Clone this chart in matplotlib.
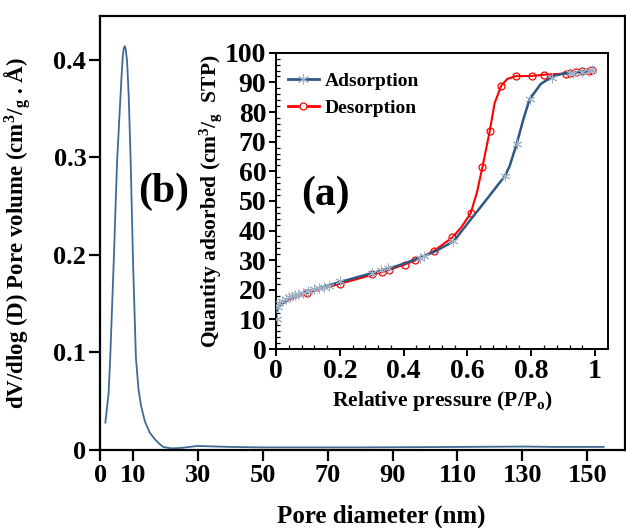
import numpy as np
import matplotlib
matplotlib.use("Agg")
import matplotlib.pyplot as plt

plt.rcParams['font.family'] = ['Liberation Serif', 'DejaVu Serif']
plt.rcParams['font.weight'] = 'bold'
plt.rcParams['mathtext.fontset'] = 'custom'
plt.rcParams['mathtext.rm'] = 'Liberation Serif:bold'
plt.rcParams['mathtext.bf'] = 'Liberation Serif:bold'
plt.rcParams['mathtext.default'] = 'rm'

# (b) pore size distribution
pore_d = [1.6, 2.6, 3.1, 3.6, 4.2, 5.2, 6.25, 6.7, 7.0, 7.3, 7.6, 7.9, 8.3, 8.8, 9.4, 10.1,
          11.0, 11.8, 12.6, 13.8, 15.2, 16.8, 18.3, 19.4, 22, 25, 30, 35, 40, 50, 60, 80,
          100, 120, 130, 140, 155]
pore_v = [0.028, 0.058, 0.095, 0.14, 0.195, 0.295, 0.362, 0.39, 0.405, 0.412, 0.414,
          0.41, 0.398, 0.362, 0.295, 0.195, 0.095, 0.062, 0.045, 0.029, 0.018, 0.011,
          0.006, 0.003, 0.0015, 0.002, 0.004, 0.0035, 0.003, 0.0025, 0.0025, 0.0025,
          0.0028, 0.0032, 0.0034, 0.003, 0.003]
b_xticks = [0, 10, 30, 50, 70, 90, 110, 130, 150]
b_yticks = [0, 0.1, 0.2, 0.3, 0.4]
b_ylabels = ['0', '0.1', '0.2', '0.3', '0.4']

# (a) isotherm: line traces
ads_line_x = [0.0, 0.005, 0.02, 0.05, 0.1, 0.15, 0.2, 0.3, 0.35, 0.4, 0.45, 0.5, 0.557,
              0.61, 0.66, 0.717, 0.732, 0.754, 0.775, 0.795, 0.83, 0.866, 0.9, 0.95, 0.99]
ads_line_y = [12.5, 14.0, 15.8, 17.5, 19.5, 21.0, 22.6, 25.6, 27.0, 28.8, 30.8, 33.0, 36.4,
              43.7, 50.5, 58.4, 61.7, 69.2, 77.5, 84.4, 89.5, 92.0, 93.0, 93.5, 94.0]
des_line_x = [0.0, 0.01, 0.03, 0.06, 0.1, 0.15, 0.2, 0.3, 0.35, 0.4, 0.45, 0.496, 0.553,
              0.58, 0.61, 0.63, 0.647, 0.67, 0.685, 0.706, 0.725, 0.751, 0.803, 0.84,
              0.908, 0.96, 0.99]
des_line_y = [13.3, 14.5, 16.0, 17.6, 19.0, 20.6, 22.0, 25.0, 26.6, 28.4, 30.5, 33.2, 37.7,
              41.0, 45.8, 53.0, 61.5, 73.7, 83.0, 88.9, 91.2, 92.1, 92.2, 92.6, 93.0, 93.7, 94.2]

# (a) isotherm: marker points
ads_pts_x = [0.002, 0.005, 0.01, 0.02, 0.03, 0.04, 0.05, 0.06, 0.07, 0.085, 0.1, 0.12, 0.135,
             0.15, 0.165, 0.2, 0.3, 0.33, 0.35, 0.45, 0.465, 0.555, 0.717, 0.754, 0.795,
             0.866, 0.92, 0.93, 0.96, 0.98, 0.99]
ads_pts_y = [10.0, 14.3, 15.5, 16.3, 17.0, 17.4, 17.8, 18.2, 18.6, 19.0, 19.5, 20.2, 20.6,
             21.0, 21.4, 22.8, 25.8, 26.6, 27.2, 30.8, 31.4, 36.4, 58.4, 69.2, 84.4,
             91.5, 93.2, 93.3, 93.6, 93.9, 94.3]
des_pts_x = [0.097, 0.2, 0.302, 0.332, 0.355, 0.405, 0.435, 0.496, 0.553, 0.61, 0.647, 0.67,
             0.706, 0.751, 0.803, 0.84, 0.908, 0.92, 0.94, 0.96, 0.98, 0.99]
des_pts_y = [18.9, 22.1, 25.2, 26.0, 26.8, 28.5, 30.0, 33.2, 37.7, 45.8, 61.5, 73.7,
             88.9, 92.1, 92.2, 92.6, 93.0, 93.2, 93.5, 93.7, 94.0, 94.2]
a_xticks = [0, 0.2, 0.4, 0.6, 0.8, 1.0]
a_xlabels = ['0', '0.2', '0.4', '0.6', '0.8', '1']
a_yticks = list(range(0, 101, 10))

blue = '#2e5783'
mark_blue = '#9db0c6'
red = '#ff0000'

fig = plt.figure(figsize=(6.26, 5.28), dpi=100)
ax = fig.add_axes([0.160, 0.148, 0.838, 0.822])
ax.plot(pore_d, pore_v, color='#3f6a94', lw=1.3)
ax.set_xlim(0, 161.5)
ax.set_ylim(0, 0.445)
ax.set_xticks(b_xticks)
ax.set_yticks(b_yticks)
ax.set_yticklabels(b_ylabels)
ax.tick_params(labelsize=19, width=1.6, length=8, pad=2)
for s in ax.spines.values():
    s.set_linewidth(1.6)
ax.set_xlabel('Pore diameter (nm)', fontsize=18, fontweight='bold')
ax.xaxis.set_label_coords(0.535, -0.125)
ax.set_ylabel('dV/dlog (D) Pore volume (cm$^{3}$/$_{g}$ . Å)', fontsize=16.5, fontweight='bold')
ax.yaxis.set_label_coords(-0.128, 0.5)
fig.text(164 / 626, 1 - 192 / 528, '(b)', fontsize=30, fontweight='bold',
         ha='center', va='center')

ins = fig.add_axes([0.441, 0.339, 0.530, 0.561])
ins.plot(ads_line_x, ads_line_y, color=blue, lw=1.8, zorder=3)
ins.plot(des_line_x, des_line_y, color=red, lw=1.5, zorder=2)
ins.plot(ads_pts_x, ads_pts_y, ls='none', marker=(6, 2, 0), ms=7, mew=0.7,
         color=mark_blue, zorder=4)
ins.plot(des_pts_x, des_pts_y, ls='none', marker='o', ms=5, mew=0.9,
         mfc='white', mec=red, zorder=1)
ins.set_xlim(0, 1.04)
ins.set_ylim(0, 100)
ins.set_xticks(a_xticks)
ins.set_xticklabels(a_xlabels)
ins.set_yticks(a_yticks)
ins.set_xticks(np.arange(0, 1.04, 0.04), minor=True)
ins.set_yticks(np.arange(0, 100, 2), minor=True)
ins.tick_params(which='major', direction='out', labelsize=20, width=1.4, length=5, pad=2)
ins.tick_params(which='minor', direction='in', width=0.9, length=3)
for s in ins.spines.values():
    s.set_linewidth(1.4)
ins.set_xlabel('Relative pressure (P/P$_{o}$)', fontsize=15.5, fontweight='bold', labelpad=4)
ins.set_ylabel('Quantity adsorbed (cm$^{3}$/$_{g}$  STP)', fontsize=15.5, fontweight='bold',
               labelpad=1)

h1, = ins.plot([], [], color=blue, lw=2, marker=(6, 2, 0), ms=8, mec=mark_blue, mew=0.8)
h2, = ins.plot([], [], color=red, lw=2, marker='o', ms=5, mfc='white', mec=red, mew=0.9)
ins.legend([h1, h2], ['Adsorption', 'Desorption'], loc='upper left',
           bbox_to_anchor=(0.035, 0.935), frameon=False,
           handlelength=1.6, handletextpad=0.3, labelspacing=0.5,
           borderpad=0, borderaxespad=0, numpoints=1,
           prop={'weight': 'bold', 'size': 14})
fig.text(325 / 626, 1 - 195 / 528, '(a)', fontsize=30, fontweight='bold',
         ha='center', va='center')

fig.savefig('out.png', dpi=100)
